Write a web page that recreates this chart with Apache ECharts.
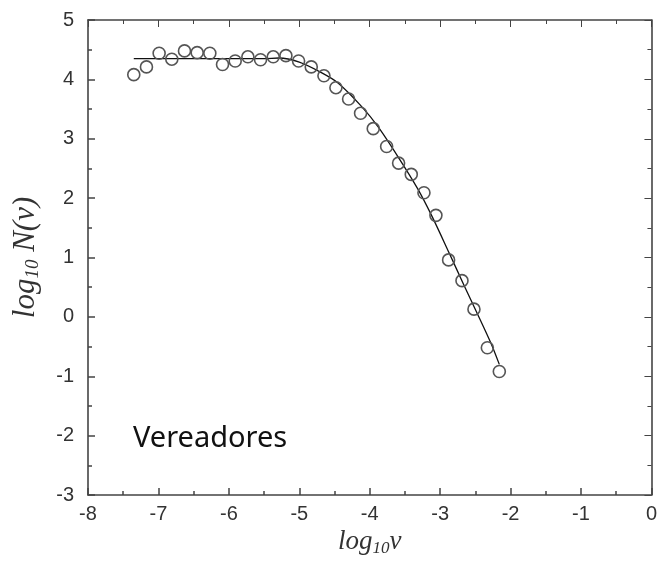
<!DOCTYPE html>
<html>
<head>
<meta charset="utf-8">
<script src="https://cdn.jsdelivr.net/npm/echarts@6/dist/echarts.min.js"></script>
<style>html,body{margin:0;padding:0;background:#fff;}#c{width:660px;height:566px;}#e{position:absolute;left:300px;top:120px;font:11px monospace;color:#c00;width:340px;white-space:pre-wrap;}</style>
</head>
<body>
<div id="c"></div>
<div id="e"></div>
<script>
window.onerror = function (m) { document.getElementById('e').textContent += m + '\n'; };
// Data
const pointX = [-7.35, -7.17, -6.99, -6.81, -6.63, -6.45, -6.27, -6.09, -5.91, -5.73,
                -5.55, -5.37, -5.19, -5.01, -4.83, -4.65, -4.48, -4.30, -4.13, -3.95,
                -3.76, -3.59, -3.41, -3.23, -3.06, -2.88, -2.69, -2.52, -2.33, -2.16];
const pointY = [4.08, 4.21, 4.44, 4.34, 4.48, 4.45, 4.44, 4.25, 4.31, 4.38,
                4.33, 4.38, 4.40, 4.31, 4.21, 4.06, 3.86, 3.67, 3.43, 3.17,
                2.87, 2.59, 2.40, 2.09, 1.71, 0.96, 0.61, 0.13, -0.52, -0.92];
const fitX = [-7.35, -6.2, -5.5, -5.29, -5.0, -4.68, -4.45, -4.12, -3.88, -3.6,
              -3.32, -3.11, -2.87, -2.66, -2.47, -2.28, -2.16];
const fitY = [4.35, 4.35, 4.35, 4.36, 4.29, 4.11, 3.94, 3.55, 3.20, 2.70,
              2.16, 1.68, 1.07, 0.53, 0.05, -0.44, -0.80];
const xTicks = [-8, -7, -6, -5, -4, -3, -2, -1, 0];
const yTicks = [-3, -2, -1, 0, 1, 2, 3, 4, 5];
const labelText = 'Vereadores';

const points = pointX.map((x, i) => [x, pointY[i]]);
const fit = fitX.map((x, i) => [x, fitY[i]]);

const axisColor = '#444';
const serif = 'Liberation Serif, Times New Roman, serif';
function rich(size, subSize, pad) {
  return {
    it: { fontFamily: serif, fontStyle: 'italic', fontSize: size, color: '#333' },
    sub: { fontFamily: serif, fontStyle: 'italic', fontSize: subSize, color: '#333', padding: [pad, 0, 0, 0] }
  };
}
function mainAxis(pos, ticks, margin) {
  return {
    type: 'value', position: pos, min: ticks[0], max: ticks[ticks.length - 1], interval: 1,
    axisLine: { show: true, onZero: false, lineStyle: { color: axisColor, width: 1.6 } },
    axisTick: { show: true, inside: true, length: 7, lineStyle: { color: axisColor, width: 1.5 } },
    minorTick: { show: true, splitNumber: 2, length: 4, lineStyle: { color: axisColor, width: 1.5 } },
    axisLabel: { show: true, margin: margin, color: '#333', fontSize: 20,
                 fontFamily: 'Liberation Sans Narrow, Liberation Sans, Arial, sans-serif' },
    splitLine: { show: false }
  };
}
function mirrorAxis(pos, ticks) {
  return {
    type: 'value', position: pos, min: ticks[0], max: ticks[ticks.length - 1], interval: 1,
    axisLine: { show: true, onZero: false, lineStyle: { color: axisColor, width: 1.6 } },
    axisTick: { show: true, inside: true, length: 7 },
    minorTick: { show: true, splitNumber: 2, length: 4 },
    axisLabel: { show: false }, splitLine: { show: false }
  };
}

const xMain = mainAxis('bottom', xTicks, 9);
xMain.name = '{it|log}{sub|10}{it|v}';
xMain.nameLocation = 'middle';
xMain.nameGap = 26;
xMain.nameTextStyle = { rich: rich(27, 17, 12) };
const yMain = mainAxis('left', yTicks, 14);
yMain.name = '{it|log}{sub|10}{it| N(v)}';
yMain.nameLocation = 'middle';
yMain.nameGap = 46;
yMain.nameTextStyle = { rich: rich(31, 19, 14) };

const chart = echarts.init(document.getElementById('c'));
chart.setOption({
  animation: false,
  title: { text: labelText, left: 128, top: 419,
           textStyle: { fontSize: 29, fontWeight: 'normal', color: '#111', fontFamily: 'Noto Sans, DejaVu Sans, sans-serif' } },
  grid: { left: 88, right: 5, top: 20, bottom: 71 },
  xAxis: [xMain, mirrorAxis('top', xTicks)],
  yAxis: [yMain, mirrorAxis('right', yTicks)],
  series: [
    {
      type: 'line', data: fit, xAxisIndex: 1, yAxisIndex: 1, showSymbol: false, smooth: 0.3,
      lineStyle: { color: '#111', width: 1.3 }, z: 3
    },
    {
      type: 'line', data: points, xAxisIndex: 0, yAxisIndex: 0, symbol: 'circle', symbolSize: 12, showSymbol: true,
      lineStyle: { width: 0, opacity: 0 },
      itemStyle: { color: 'rgba(0,0,0,0)', borderColor: '#555', borderWidth: 1.6 }, z: 4
    }
  ]
});
</script>
</body>
</html>
